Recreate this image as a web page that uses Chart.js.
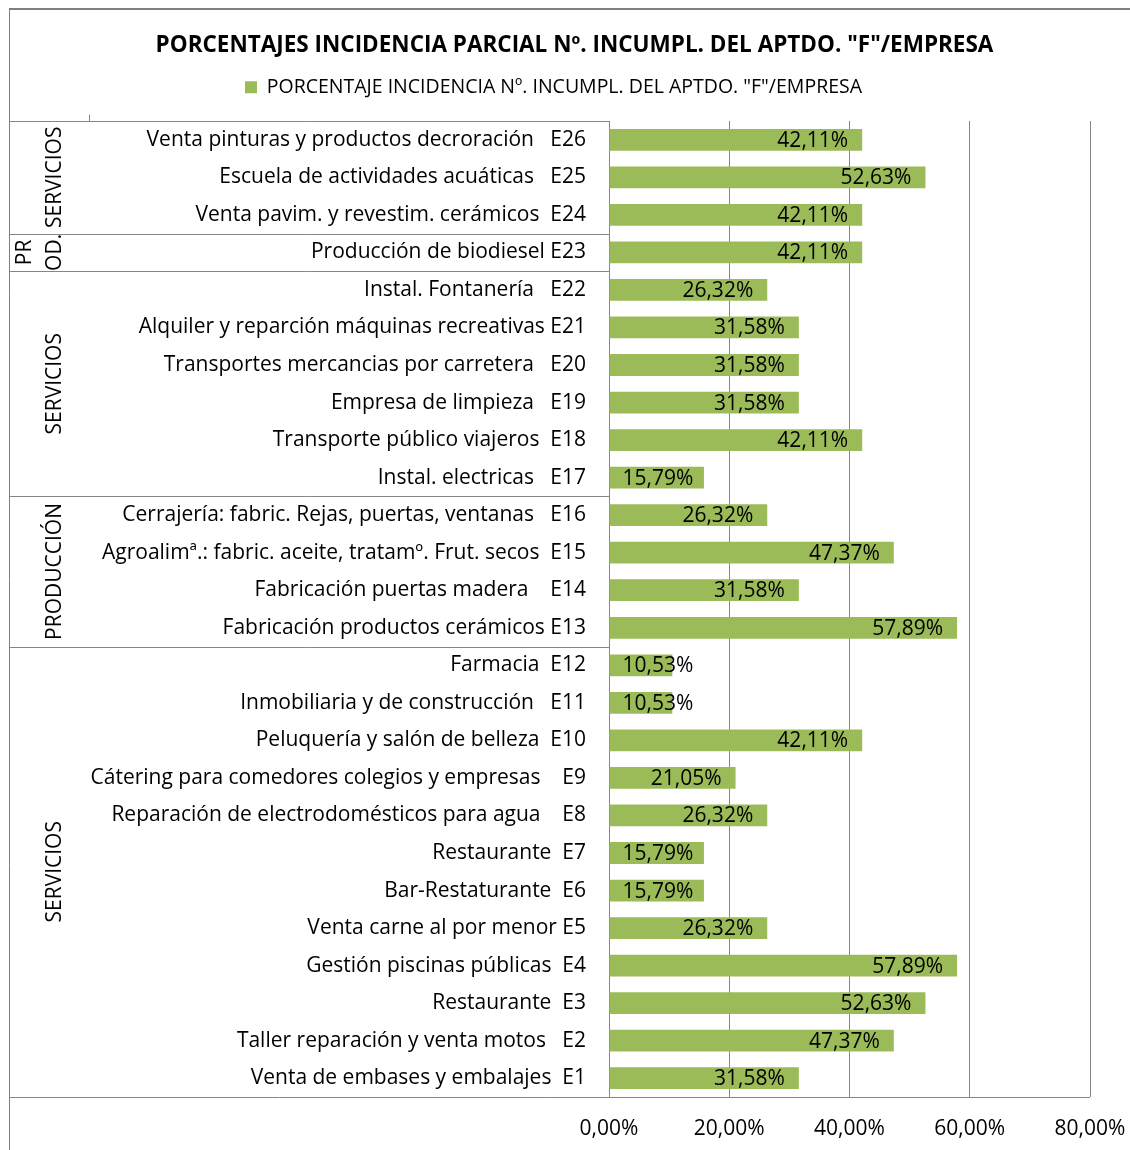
<!DOCTYPE html>
<html>
<head>
<meta charset="utf-8">
<title>Porcentajes incidencia parcial</title>
<script src="https://cdn.jsdelivr.net/npm/chart.js@4.4.1/dist/chart.umd.min.js"></script>
<style>
    body { margin: 0; background: #fff; }
    canvas { display: block; }
</style>
</head>
<body>
<canvas id="myChart" width="1130" height="1150"></canvas>
<script>
// companies as in the sheet, E1 first (Excel draws it at the bottom)
const companies = [
    'Venta de embases y embalajes  E1',
    'Taller reparación y venta motos   E2',
    'Restaurante  E3',
    'Gestión piscinas públicas  E4',
    'Venta carne al por menor E5',
    'Bar-Restaturante  E6',
    'Restaurante  E7',
    'Reparación de electrodomésticos para agua    E8',
    'Cátering para comedores colegios y empresas    E9',
    'Peluquería y salón de belleza  E10',
    'Inmobiliaria y de construcción   E11',
    'Farmacia  E12',
    'Fabricación productos cerámicos E13',
    'Fabricación puertas madera    E14',
    'Agroalimª.: fabric. aceite, tratamº. Frut. secos  E15',
    'Cerrajería: fabric. Rejas, puertas, ventanas   E16',
    'Instal. electricas   E17',
    'Transporte público viajeros  E18',
    'Empresa de limpieza   E19',
    'Transportes mercancias por carretera   E20',
    'Alquiler y reparción máquinas recreativas E21',
    'Instal. Fontanería   E22',
    'Producción de biodiesel E23',
    'Venta pavim. y revestim. cerámicos  E24',
    'Escuela de actividades acuáticas   E25',
    'Venta pinturas y productos decroración   E26'
];
const percentages = [
    31.58, 47.37, 52.63, 57.89, 26.32, 15.79, 15.79, 26.32, 21.05, 42.11, 10.53, 10.53,
    57.89, 31.58, 47.37, 26.32,
    15.79, 42.11, 31.58, 31.58, 31.58, 26.32,
    42.11,
    42.11, 52.63, 42.11
];
const groupNames = [['SERVICIOS'], ['PRODUCCIÓN'], ['SERVICIOS'], ['PR', 'OD.'], ['SERVICIOS']];
const groupSizes = [12, 4, 6, 1, 3];
const xTicks = [0, 20, 40, 60, 80];

const fontName = "'Open Sans', sans-serif";
const lineColor = '#868686';
const barColor = '#9bbb59';

function formatPct(v) {
    return v.toFixed(2).replace('.', ',') + '%';
}

// labels at the inside end of each bar
const valueLabels = {
    id: 'valueLabels',
    afterDatasetsDraw(chart) {
        const ctx = chart.ctx;
        const meta = chart.getDatasetMeta(0);
        ctx.save();
        ctx.font = `21px ${fontName}`;
        ctx.fillStyle = '#000';
        ctx.textAlign = 'right';
        ctx.textBaseline = 'middle';
        meta.data.forEach((bar, i) => {
            let text = formatPct(percentages[i]);
            let w = ctx.measureText(text).width;
            let x = Math.max(bar.x - 14, bar.base + 13 + w);
            ctx.fillText(text, x, bar.y + 1);
        });
        ctx.restore();
    }
};

// outer frame, group boxes and their rotated names
const groupBoxes = {
    id: 'groupBoxes',
    afterLayout(chart) {
        // Excel puts the legend a bit higher and left of the title centre
        const lg = chart.legend;
        lg.left -= 21; lg.right -= 21;
        lg.top -= 14; lg.bottom -= 14;
    },
    afterDraw(chart) {
        const ctx = chart.ctx;
        const area = chart.chartArea;
        const yScale = chart.scales.y;
        const edge = 9.5;
        ctx.save();

        ctx.strokeStyle = '#7f7f7f';
        ctx.lineWidth = 2;
        ctx.beginPath();
        ctx.moveTo(9, 9); ctx.lineTo(1130, 9);
        ctx.stroke();
        ctx.lineWidth = 1;
        ctx.beginPath();
        ctx.moveTo(edge, 9); ctx.lineTo(edge, 1150);
        ctx.stroke();

        ctx.strokeStyle = lineColor;
        let top = Math.round(area.top) + 0.5;
        let bottom = Math.round(area.bottom) + 0.5;
        ctx.beginPath();
        ctx.moveTo(edge, top); ctx.lineTo(area.left, top);
        ctx.moveTo(edge, bottom); ctx.lineTo(area.right, bottom);
        ctx.moveTo(89.5, top - 7); ctx.lineTo(89.5, top);
        ctx.stroke();

        let start = 0;
        groupSizes.forEach((size, g) => {
            let end = start + size - 1;
            let yBottom = start === 0 ? area.bottom
                : (yScale.getPixelForValue(start - 1) + yScale.getPixelForValue(start)) / 2;
            let yTop = end === companies.length - 1 ? area.top
                : (yScale.getPixelForValue(end) + yScale.getPixelForValue(end + 1)) / 2;
            if (end < companies.length - 1) {
                let y = Math.round(yTop) + 0.5;
                ctx.beginPath();
                ctx.moveTo(edge, y); ctx.lineTo(area.left, y);
                ctx.stroke();
            }
            let lines = groupNames[g];
            let yc = (yTop + yBottom) / 2;
            ctx.font = `21px ${fontName}`;
            ctx.fillStyle = '#000';
            ctx.textAlign = 'center';
            ctx.textBaseline = 'middle';
            lines.forEach((txt, k) => {
                let x = 55 - (lines.length - 1 - k) * 30;
                ctx.save();
                ctx.translate(x, yc);
                ctx.rotate(-Math.PI / 2);
                ctx.fillText(txt, 0, 0);
                ctx.restore();
            });
            start = end + 1;
        });
        ctx.restore();
    }
};

let ctx = document.getElementById('myChart').getContext('2d');
let myChart = new Chart(ctx, {
    type: 'bar',
    data: {
        labels: companies,
        datasets: [{
            label: 'PORCENTAJE INCIDENCIA Nº. INCUMPL. DEL APTDO. "F"/EMPRESA',
            data: percentages,
            backgroundColor: barColor,
            borderWidth: 0,
            barPercentage: 0.58,
            categoryPercentage: 1
        }]
    },
    options: {
        indexAxis: 'y',
        responsive: false,
        animation: false,
        layout: {
            padding: { top: 0, left: 20, right: 1, bottom: 0 }
        },
        plugins: {
            title: {
                display: true,
                text: 'PORCENTAJES INCIDENCIA PARCIAL Nº. INCUMPL. DEL APTDO. "F"/EMPRESA',
                color: '#000',
                font: { family: fontName, size: 22.5, weight: 'bold' },
                padding: { top: 32.5, bottom: 10 }
            },
            legend: {
                display: true,
                position: 'top',
                labels: {
                    color: '#000',
                    font: { family: fontName, size: 19.5 },
                    boxWidth: 12,
                    boxHeight: 12,
                    padding: 22
                }
            },
            tooltip: { enabled: false }
        },
        scales: {
            x: {
                type: 'linear',
                min: 0,
                max: 80,
                afterBuildTicks: scale => {
                    scale.ticks = xTicks.map(v => ({ value: v }));
                },
                afterFit: scale => {
                    scale.height = 53;
                    scale.paddingLeft = 0;
                    scale.paddingRight = 40;
                },
                ticks: {
                    color: '#000',
                    font: { family: fontName, size: 21 },
                    padding: 19,
                    callback: v => formatPct(v)
                },
                grid: {
                    color: lineColor,
                    drawTicks: false
                },
                border: { display: false }
            },
            y: {
                reverse: true,
                afterFit: scale => {
                    scale.width = 589;
                },
                ticks: {
                    color: '#000',
                    font: { family: fontName, size: 21 },
                    padding: 23,
                    autoSkip: false
                },
                grid: { display: false, drawTicks: false },
                border: { display: false }
            }
        }
    },
    plugins: [valueLabels, groupBoxes]
});
</script>
</body>
</html>
